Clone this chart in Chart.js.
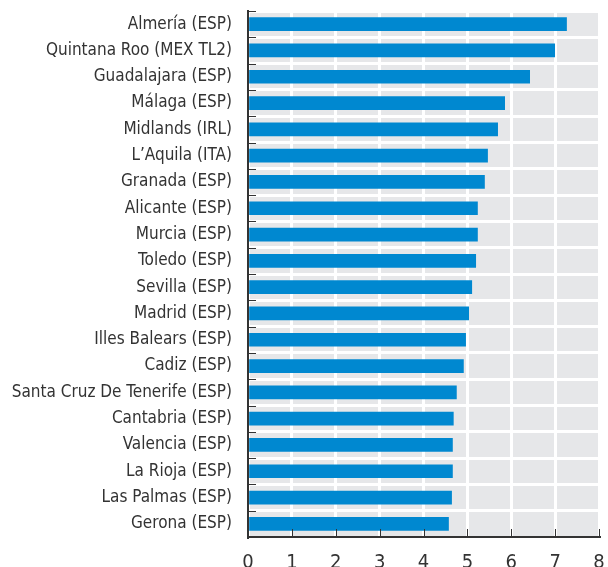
<!DOCTYPE html>
<html>
<head>
<meta charset="utf-8">
<script src="https://cdn.jsdelivr.net/npm/chart.js@4/dist/chart.umd.min.js"></script>
<style>
  html, body { margin: 0; padding: 0; background: #fff; }
  canvas { display: block; }
</style>
</head>
<body>
<canvas id="chart" width="608" height="567"></canvas>
<script>
const regions = [
  "Almería (ESP)", "Quintana Roo (MEX TL2)", "Guadalajara (ESP)", "Málaga (ESP)",
  "Midlands (IRL)", "L’Aquila (ITA)", "Granada (ESP)", "Alicante (ESP)",
  "Murcia (ESP)", "Toledo (ESP)", "Sevilla (ESP)", "Madrid (ESP)",
  "Illes Balears (ESP)", "Cadiz (ESP)", "Santa Cruz De Tenerife (ESP)", "Cantabria (ESP)",
  "Valencia (ESP)", "La Rioja (ESP)", "Las Palmas (ESP)", "Gerona (ESP)",
];
const values = [
  7.26, 6.99, 6.42, 5.85, 5.69, 5.46, 5.39, 5.23, 5.23, 5.19,
  5.10, 5.03, 4.96, 4.91, 4.75, 4.68, 4.66, 4.66, 4.64, 4.57,
];
const xTicks = [0, 1, 2, 3, 4, 5, 6, 7, 8];

const FONT = "'Liberation Sans Narrow', 'DejaVu Sans Condensed', 'Roboto', sans-serif";
const AXIS = "#333333";

// grey plot background + inward tick marks
const plotDecor = {
  id: "plotDecor",
  beforeDraw(chart) {
    const { ctx, chartArea: a } = chart;
    ctx.save();
    ctx.fillStyle = "#e6e7e9";
    ctx.fillRect(a.left, a.top, a.right - a.left, a.bottom - a.top);
    ctx.restore();
  },
  afterDatasetsDraw(chart) {
    const { ctx, chartArea: a, scales } = chart;
    ctx.save();
    ctx.strokeStyle = AXIS;
    ctx.lineWidth = 1;
    ctx.beginPath();
    const n = scales.y.ticks.length;
    const half = (scales.y.getPixelForTick(1) - scales.y.getPixelForTick(0)) / 2;
    for (let i = 0; i <= n; i++) {
      const y = Math.round(scales.y.getPixelForTick(Math.min(i, n - 1)) + (i < n ? -half : half)) + 0.5;
      ctx.moveTo(a.left, y);
      ctx.lineTo(a.left + 8, y);
    }
    xTicks.forEach((v) => {
      const x = Math.round(scales.x.getPixelForValue(v)) + 0.5;
      ctx.moveTo(x, a.bottom);
      ctx.lineTo(x, a.bottom - 8);
    });
    ctx.stroke();
    ctx.restore();
  },
};

new Chart(document.getElementById("chart"), {
  type: "bar",
  data: {
    labels: regions,
    datasets: [
      {
        data: values,
        backgroundColor: "#0088d0",
        barThickness: 13,
      },
    ],
  },
  plugins: [plotDecor],
  options: {
    indexAxis: "y",
    responsive: false,
    animation: false,
    layout: { padding: { top: 11, right: 9, left: 0, bottom: 0 } },
    plugins: {
      legend: { display: false },
      tooltip: { enabled: false },
    },
    scales: {
      x: {
        min: 0,
        max: 8,
        afterFit: (s) => {
          s.height = 30;
          s.paddingLeft = 0;
          s.paddingRight = 0;
        },
        afterBuildTicks: (s) => { s.ticks = xTicks.map((v) => ({ value: v })); },
        grid: { color: "#ffffff", lineWidth: 3, drawTicks: false },
        border: { color: AXIS, width: 2 },
        ticks: {
          padding: 14,
          color: AXIS,
          font: { family: FONT, size: 20 },
        },
      },
      y: {
        afterFit: (s) => {
          s.width = 248;
          s.paddingTop = 0;
          s.paddingBottom = 0;
        },
        grid: { color: "#ffffff", lineWidth: 3, drawTicks: false, offset: true },
        border: { color: AXIS, width: 2 },
        ticks: {
          padding: 16,
          color: AXIS,
          autoSkip: false,
          font: { family: FONT, size: 17 },
        },
      },
    },
  },
});
</script>
</body>
</html>
